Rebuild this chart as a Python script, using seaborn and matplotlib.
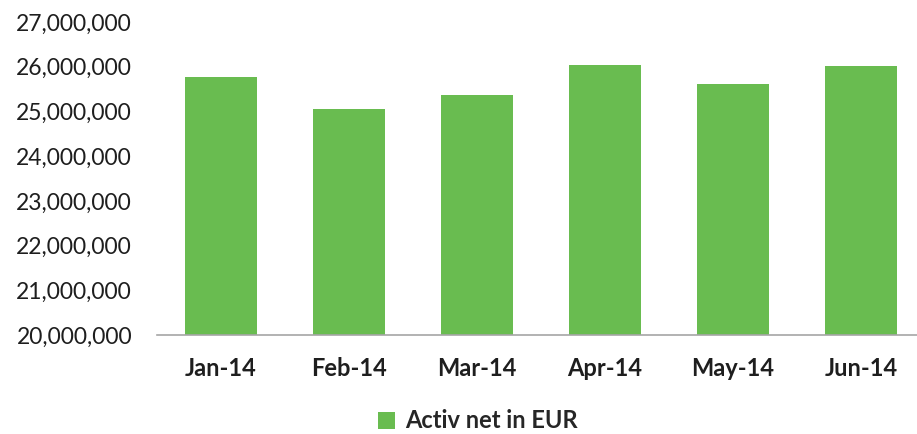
import matplotlib
matplotlib.use("Agg")
import matplotlib.pyplot as plt
import seaborn as sns
import pandas as pd
from matplotlib.ticker import FuncFormatter
from matplotlib.patches import Patch

months = ["Jan-14", "Feb-14", "Mar-14", "Apr-14", "May-14", "Jun-14"]
values = [25780000, 25060000, 25370000, 26040000, 25620000, 26020000]
series_name = "Activ net in EUR"

sns.set_theme(style="white")
plt.rcParams['font.family'] = ['Lato', 'DejaVu Sans']

df = pd.DataFrame({"month": months, "value": values})

fig = plt.figure(figsize=(9.17, 4.34), dpi=100)
ax = fig.add_axes([157/917, (434-335)/434, 768/917, (335-22)/434])
color = "#69bc50"
sns.barplot(data=df, x="month", y="value", color=color, width=0.565, ax=ax,
            saturation=1, edgecolor="none")
ax.set_ylim(20000000, 27000000)
ax.set_xlim(-0.5, 5.5)
ax.set_yticks(range(20000000, 27000001, 1000000))
ax.yaxis.set_major_formatter(FuncFormatter(lambda v, p: f"{int(v):,}"))
ax.set_xlabel("")
ax.set_ylabel("")
for s in ["left", "right", "top"]:
    ax.spines[s].set_visible(False)
ax.spines["bottom"].set_color("#a6a6a6")
ax.spines["bottom"].set_linewidth(1.2)
ax.tick_params(axis="y", length=0, pad=18, labelsize=16.5, labelcolor="#1e1e1e")
ax.tick_params(axis="x", length=0, pad=16, labelsize=17, labelcolor="#1e1e1e")
for t in ax.get_xticklabels():
    t.set_fontweight("bold")

fig.legend(handles=[Patch(facecolor=color, edgecolor="none")], labels=[series_name],
           loc="center", bbox_to_anchor=(478/917, 1 - 421/434), frameon=False,
           prop={"weight": "bold", "size": 17}, handlelength=0.7, handleheight=0.7,
           handletextpad=0.45, borderpad=0.1)
fig.savefig("out.png", dpi=100)
